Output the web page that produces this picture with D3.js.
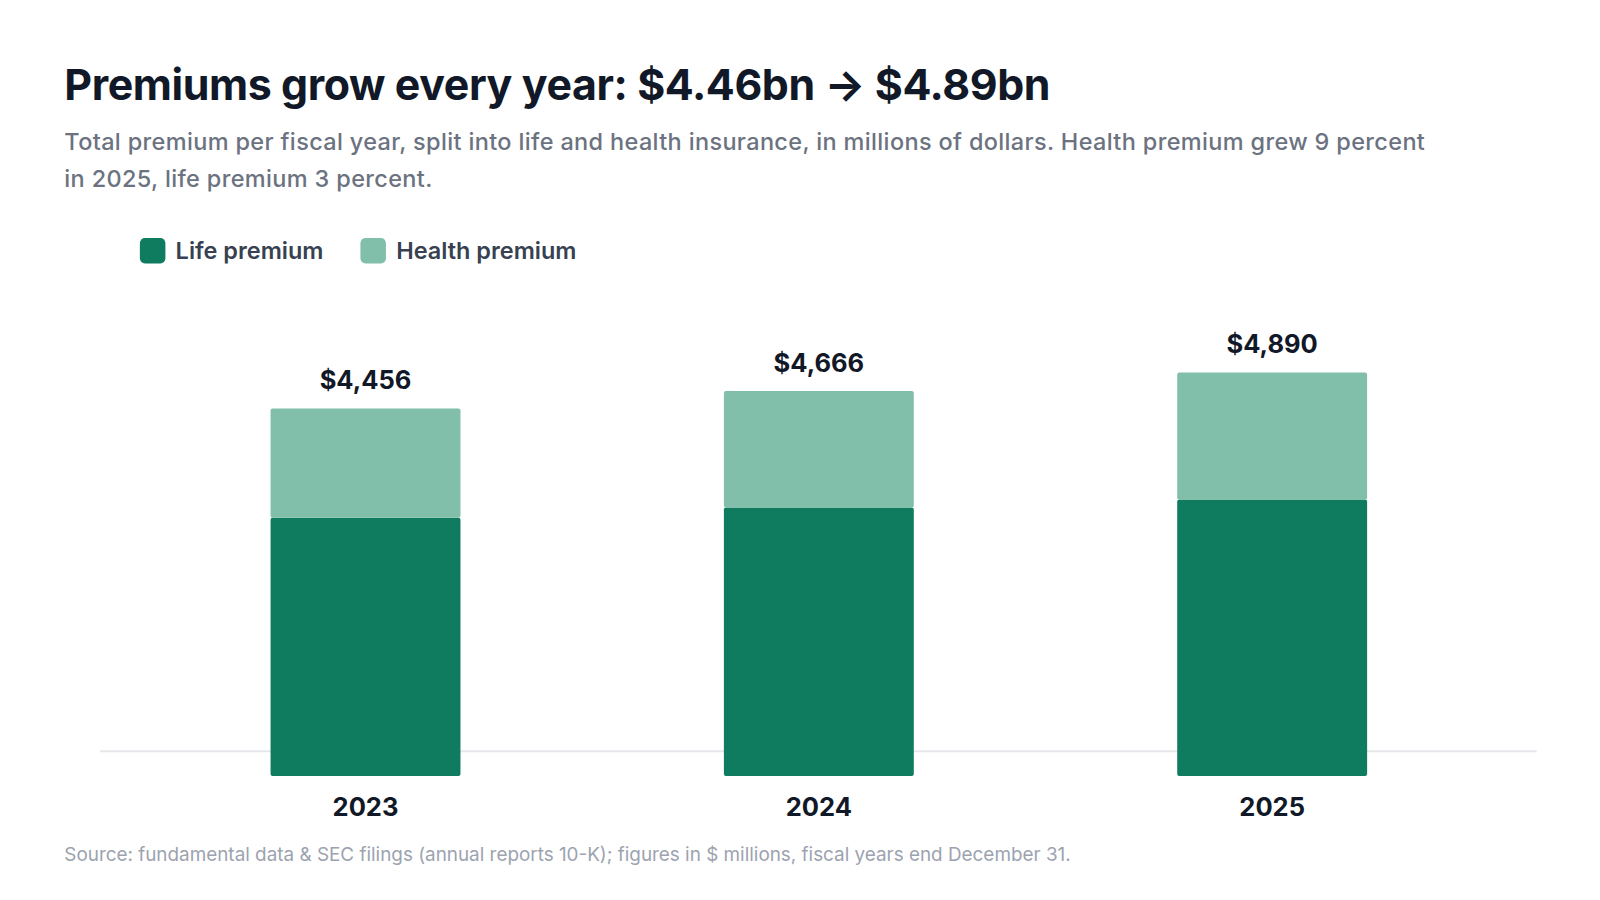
<!DOCTYPE html>
<html><head><meta charset="utf-8">
<script src="https://cdn.jsdelivr.net/npm/d3@7"></script>
<style>body{margin:0;background:#fff;font-family:Inter,"Helvetica Neue",Arial,sans-serif}</style>
</head><body><svg id="c" width="1600" height="900"></svg>
<script>
const years = ["2023","2024","2025"];
const life = [3131, 3255, 3352];
const health = [1325, 1411, 1538];
const totals = [4456, 4666, 4890];
const gridValues = [300];

const svg = d3.select("#c").append("g").attr("transform","scale(1.021)");
const y = d3.scaleLinear().domain([0, 4456]).range([760, 400]);
const x = d3.scalePoint().domain(years).range([136, 1468]).padding(0.5);
const bw = 186;

svg.append("text").attr("x",63).attr("y",98).attr("font-size",42).attr("font-weight",700)
  .attr("fill","#111827").attr("letter-spacing","-0.4").text("Premiums grow every year: $4.46bn → $4.89bn");
const sub = ["Total premium per fiscal year, split into life and health insurance, in millions of dollars. Health premium grew 9 percent","in 2025, life premium 3 percent."];
sub.forEach((s,i)=>svg.append("text").attr("x",63).attr("y",147+i*36).attr("font-size",23).attr("font-weight",500).attr("letter-spacing","0.35").attr("fill","#6b7280").text(s));

const leg = [["Life premium","#0f7b5f",137],["Health premium","#82bfab",353]];
leg.forEach(([t,c,lx])=>{
  svg.append("rect").attr("x",lx).attr("y",233).attr("width",25).attr("height",25).attr("rx",5).attr("fill",c);
  svg.append("text").attr("x",lx+35).attr("y",254).attr("font-size",23).attr("font-weight",600).attr("fill","#374151").text(t);
});

svg.selectAll(".g").data(gridValues).join("line").attr("x1",98).attr("x2",1505)
  .attr("y1",d=>y(d)).attr("y2",d=>y(d)).attr("stroke","#e5e7eb").attr("stroke-width",2);

const g = svg.append("g");
years.forEach((yr,i)=>{
  const cx = x(yr);
  g.append("rect").attr("x",cx-bw/2).attr("width",bw).attr("y",y(life[i])).attr("height",y(0)-y(life[i])).attr("fill","#0f7b5f").attr("rx",2);
  g.append("rect").attr("x",cx-bw/2).attr("width",bw).attr("y",y(life[i]+health[i])).attr("height",y(life[i])-y(life[i]+health[i])).attr("fill","#82bfab").attr("rx",2);
  g.append("text").attr("x",cx).attr("y",y(totals[i])-19).attr("text-anchor","middle").attr("font-size",25).attr("font-weight",700).attr("fill","#111827").text("$"+d3.format(",")(totals[i]));
  g.append("text").attr("x",cx).attr("y",799).attr("text-anchor","middle").attr("font-size",25).attr("font-weight",700).attr("fill","#111827").text(yr);
});

svg.append("text").attr("x",63).attr("y",843).attr("font-size",18.5).attr("fill","#9ca3af")
  .text("Source: fundamental data & SEC filings (annual reports 10-K); figures in $ millions, fiscal years end December 31.");
</script></body></html>
